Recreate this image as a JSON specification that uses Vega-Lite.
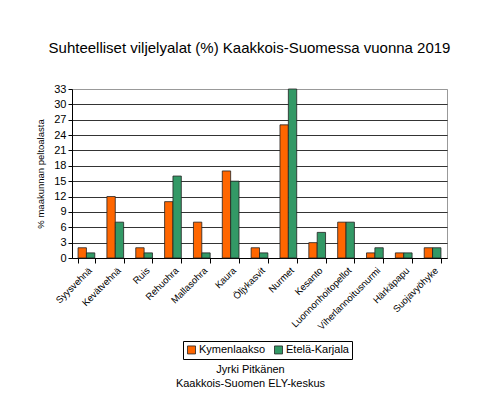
{
  "$schema": "https://vega.github.io/schema/vega-lite/v6.json",
  "width": 375,
  "height": 169,
  "autosize": "none",
  "padding": {"left": 72, "top": 89, "right": 53, "bottom": 139},
  "background": "white",
  "config": {
    "font": "Liberation Sans",
    "view": {"stroke": "#999999", "strokeWidth": 1}
  },
  "title": {
    "text": "Suhteelliset viljelyalat (%) Kaakkois-Suomessa vuonna 2019",
    "fontSize": 15,
    "fontWeight": "normal",
    "color": "black",
    "anchor": "middle",
    "dx": -10,
    "offset": 27
  },
  "data": {
    "values": [
      {"kasvi": "Syysvehnä", "alue": "Kymenlaakso", "osuus": 2},
      {"kasvi": "Syysvehnä", "alue": "Etelä-Karjala", "osuus": 1},
      {"kasvi": "Kevätvehnä", "alue": "Kymenlaakso", "osuus": 12},
      {"kasvi": "Kevätvehnä", "alue": "Etelä-Karjala", "osuus": 7},
      {"kasvi": "Ruis", "alue": "Kymenlaakso", "osuus": 2},
      {"kasvi": "Ruis", "alue": "Etelä-Karjala", "osuus": 1},
      {"kasvi": "Rehuohra", "alue": "Kymenlaakso", "osuus": 11},
      {"kasvi": "Rehuohra", "alue": "Etelä-Karjala", "osuus": 16},
      {"kasvi": "Mallasohra", "alue": "Kymenlaakso", "osuus": 7},
      {"kasvi": "Mallasohra", "alue": "Etelä-Karjala", "osuus": 1},
      {"kasvi": "Kaura", "alue": "Kymenlaakso", "osuus": 17},
      {"kasvi": "Kaura", "alue": "Etelä-Karjala", "osuus": 15},
      {"kasvi": "Öljykasvit", "alue": "Kymenlaakso", "osuus": 2},
      {"kasvi": "Öljykasvit", "alue": "Etelä-Karjala", "osuus": 1},
      {"kasvi": "Nurmet", "alue": "Kymenlaakso", "osuus": 26},
      {"kasvi": "Nurmet", "alue": "Etelä-Karjala", "osuus": 33},
      {"kasvi": "Kesanto", "alue": "Kymenlaakso", "osuus": 3},
      {"kasvi": "Kesanto", "alue": "Etelä-Karjala", "osuus": 5},
      {"kasvi": "Luonnonhoitopellot", "alue": "Kymenlaakso", "osuus": 7},
      {"kasvi": "Luonnonhoitopellot", "alue": "Etelä-Karjala", "osuus": 7},
      {"kasvi": "Viherlannoitusnurmi", "alue": "Kymenlaakso", "osuus": 1},
      {"kasvi": "Viherlannoitusnurmi", "alue": "Etelä-Karjala", "osuus": 2},
      {"kasvi": "Härkäpapu", "alue": "Kymenlaakso", "osuus": 1},
      {"kasvi": "Härkäpapu", "alue": "Etelä-Karjala", "osuus": 1},
      {"kasvi": "Suojavyöhyke", "alue": "Kymenlaakso", "osuus": 2},
      {"kasvi": "Suojavyöhyke", "alue": "Etelä-Karjala", "osuus": 2}
    ]
  },
  "mark": {"type": "bar", "stroke": "#222222", "strokeWidth": 0.8},
  "encoding": {
    "x": {
      "field": "kasvi",
      "type": "nominal",
      "sort": null,
      "scale": {"paddingInner": 0.42, "paddingOuter": 0.21},
      "axis": {
        "title": ["Jyrki Pitkänen", "Kaakkois-Suomen ELY-keskus"],
        "titleFontSize": 11,
        "titleFontWeight": "normal",
        "titleColor": "black",
        "titleBaseline": "top",
        "titleY": 105,
        "titleX": 178,
        "titleLineHeight": 14,
        "labelAngle": -45,
        "labelAlign": "right",
        "labelBaseline": "top",
        "labelFontSize": 9.5,
        "labelColor": "black",
        "labelPadding": 2,
        "tickBand": "extent",
        "tickColor": "black",
        "tickSize": 5,
        "domainColor": "black",
        "grid": false
      }
    },
    "xOffset": {"field": "alue", "type": "nominal", "sort": ["Kymenlaakso", "Etelä-Karjala"]},
    "y": {
      "field": "osuus",
      "type": "quantitative",
      "scale": {"domain": [0, 33], "nice": false},
      "axis": {
        "title": "% maakunnan peltoalasta",
        "titleFontSize": 9.5,
        "titleFontWeight": "normal",
        "titleColor": "black",
        "titlePadding": 8,
        "values": [0, 3, 6, 9, 12, 15, 18, 21, 24, 27, 30, 33],
        "labelFontSize": 11,
        "labelColor": "black",
        "tickColor": "black",
        "tickSize": 4,
        "domainColor": "black",
        "gridColor": {"condition": {"test": "datum.value === 33", "value": "#999999"}, "value": "black"},
        "gridOpacity": 1,
        "gridWidth": 0.8
      }
    },
    "color": {
      "field": "alue",
      "type": "nominal",
      "sort": ["Kymenlaakso", "Etelä-Karjala"],
      "scale": {"domain": ["Kymenlaakso", "Etelä-Karjala"], "range": ["#ff6600", "#339966"]},
      "legend": {
        "title": null,
        "orient": "none",
        "legendX": 111,
        "legendY": 252,
        "direction": "horizontal",
        "symbolType": "square",
        "symbolSize": 64,
        "symbolStrokeColor": "#222222",
        "symbolStrokeWidth": 0.8,
        "labelFontSize": 11,
        "labelColor": "black",
        "labelOffset": 2,
        "columnPadding": 6,
        "strokeColor": "black",
        "padding": 3
      }
    }
  }
}
